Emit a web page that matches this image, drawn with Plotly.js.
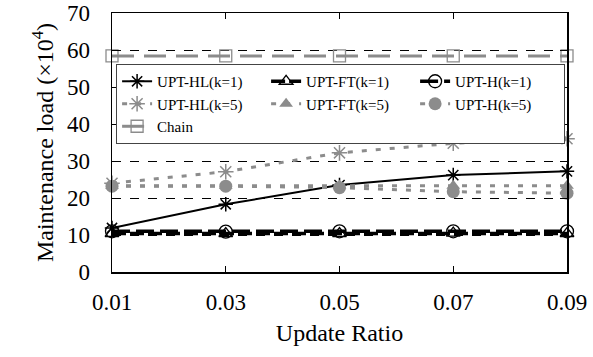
<!DOCTYPE html>
<html>
<head>
<meta charset="utf-8">
<script src="https://cdn.plot.ly/plotly-3.0.1.min.js"></script>
<style>html,body{margin:0;padding:0;background:#fff;}#chart{width:593px;height:357px;}</style>
</head>
<body>
<div id="chart"></div>
<script>
var updateRatio = [0.01, 0.03, 0.05, 0.07, 0.09];
var tickLabels = ['0.01', '0.03', '0.05', '0.07', '0.09'];
var hlK1 = [11.9, 18.3, 23.5, 26.2, 27.2];
var ftK1 = [10.4, 10.4, 10.4, 10.5, 10.4];
var hK1 = [11.0, 10.9, 11.0, 11.0, 11.0];
var hlK5 = [24.0, 27.1, 32.2, 34.8, 36.0];
var ftK5 = [23.3, 23.3, 23.3, 23.3, 23.3];
var hK5 = [23.2, 23.2, 22.8, 21.7, 21.3];
var chain = [58.4, 58.4, 58.4, 58.4, 58.4];

var gray = '#8c8c8c';
var traces = [
  {name: 'UPT-HL(k=1)', y: hlK1, line: {color: '#000', width: 2, dash: 'solid'},
   marker: {symbol: 'asterisk-open', size: 12, color: '#000', line: {color: '#000', width: 1.5}}},
  {name: 'UPT-FT(k=1)', y: ftK1, line: {color: '#000', width: 3.5, dash: '14px,4px'},
   marker: {symbol: 'triangle-up-open', size: 12, color: '#000', line: {color: '#000', width: 1.3}}},
  {name: 'UPT-H(k=1)', y: hK1, line: {color: '#000', width: 3.5, dash: '18px,6px'},
   marker: {symbol: 'circle-open', size: 13, color: '#000', line: {color: '#000', width: 1.3}}},
  {name: 'UPT-HL(k=5)', y: hlK5, line: {color: gray, width: 3, dash: '5px,9px'},
   marker: {symbol: 'asterisk-open', size: 13, color: gray, line: {color: gray, width: 1.5}}},
  {name: 'UPT-FT(k=5)', y: ftK5, line: {color: gray, width: 3, dash: '5px,9px'},
   marker: {symbol: 'triangle-up', size: 12, color: gray}},
  {name: 'UPT-H(k=5)', y: hK5, line: {color: gray, width: 3, dash: '5px,9px'},
   marker: {symbol: 'circle', size: 13, color: gray}},
  {name: 'Chain', y: chain, line: {color: gray, width: 3, dash: '22px,10px'},
   marker: {symbol: 'square-open', size: 12, color: gray, line: {color: gray, width: 1.3}}}
].map(function (t) {
  t.x = updateRatio; t.type = 'scatter'; t.mode = 'lines+markers'; t.cliponaxis = false;
  return t;
});

var font = 'Liberation Serif, serif';
var layout = {
  width: 593, height: 357,
  margin: {l: 112, r: 26, t: 13, b: 85},
  paper_bgcolor: '#fff', plot_bgcolor: '#fff',
  font: {family: font, color: '#000'},
  showlegend: true,
  legend: {
    orientation: 'h', x: 0.009, y: 0.803, xanchor: 'left', yanchor: 'top',
    bgcolor: '#fff', bordercolor: '#444', borderwidth: 1,
    font: {family: font, size: 15, color: '#000'},
    entrywidth: 104, entrywidthmode: 'pixels', tracegroupgap: 0
  },
  xaxis: {
    range: [0.01, 0.09], tickvals: updateRatio, ticktext: tickLabels,
    ticks: 'inside', ticklen: 6, tickcolor: '#000', mirror: 'ticks',
    showline: true, linecolor: '#000', linewidth: 1.5, showgrid: false, zeroline: false,
    tickfont: {family: font, size: 23, color: '#000'}, ticklabelstandoff: 9,
    title: {text: 'Update Ratio', font: {family: font, size: 24, color: '#000'}, standoff: 10}
  },
  yaxis: {
    range: [0, 70], dtick: 10, tick0: 0,
    ticks: 'inside', ticklen: 7, tickcolor: '#000', mirror: 'ticks',
    showline: true, linecolor: '#000', linewidth: 1.5,
    showgrid: true, gridcolor: '#000', gridwidth: 1, griddash: 'dash', zeroline: false,
    tickfont: {family: font, size: 23, color: '#000'}, ticklabelstandoff: 16,
    title: {text: 'Maintenance load (×10<sup>4</sup>)', font: {family: font, size: 24, color: '#000'}, standoff: 6}
  }
};
Plotly.newPlot('chart', traces, layout, {staticPlot: true, displayModeBar: false});
</script>
</body>
</html>
